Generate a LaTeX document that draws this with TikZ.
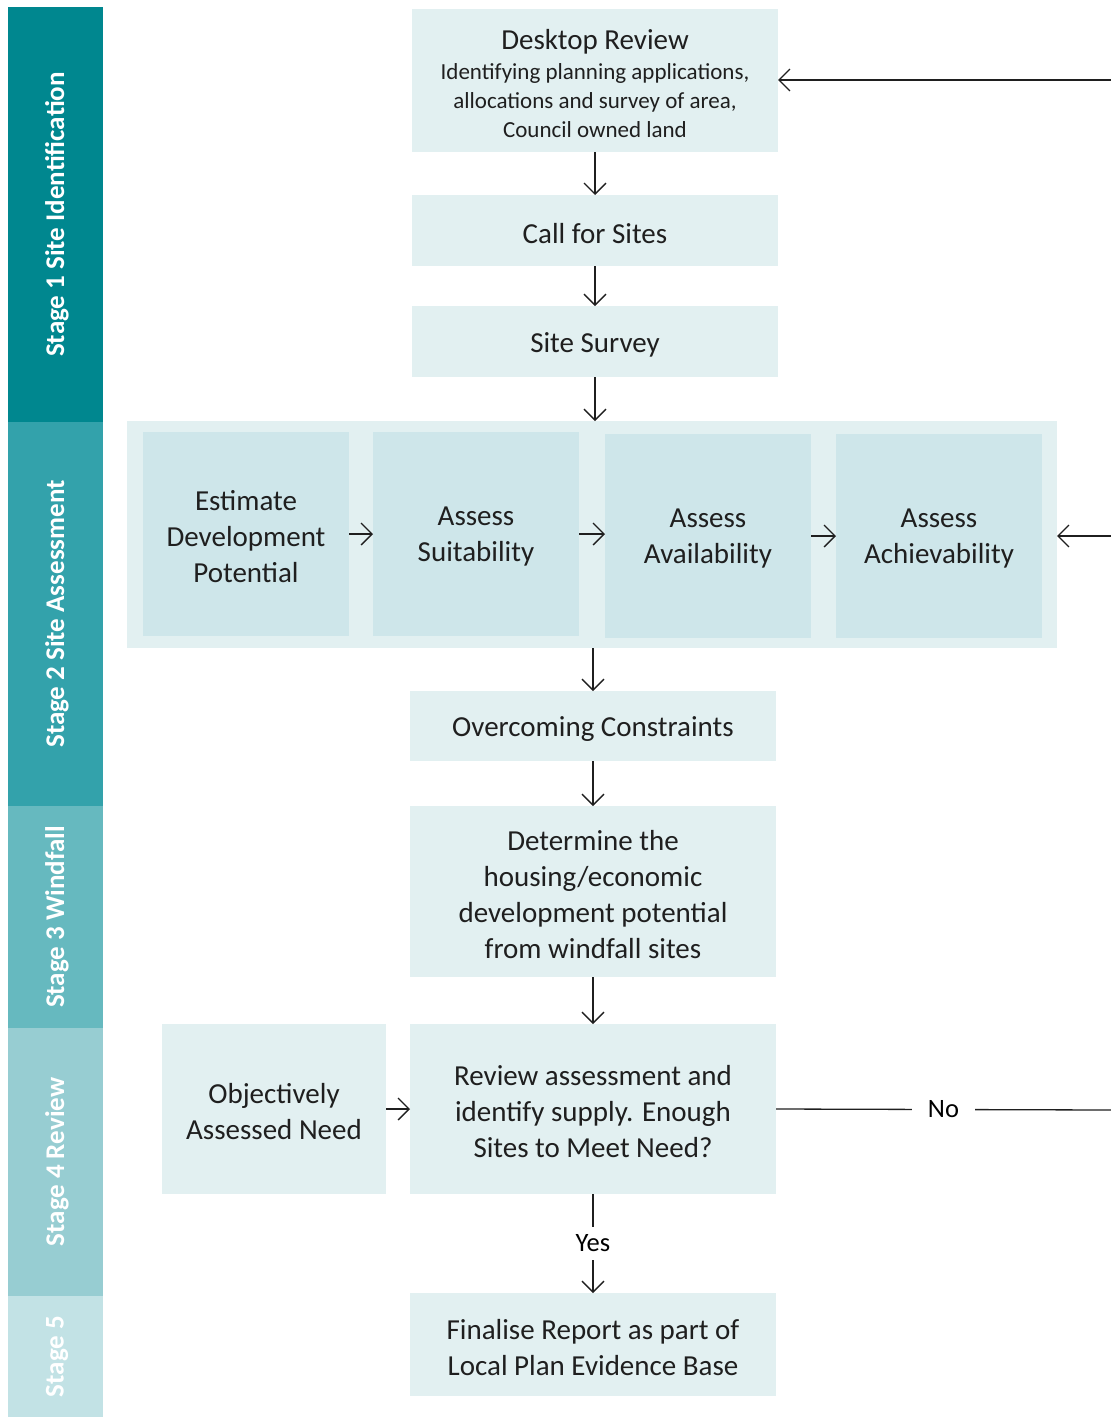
\documentclass[tikz,border=0pt]{standalone}
\usepackage{fontspec}
\setmainfont{Carlito}
\usetikzlibrary{arrows.meta}
\definecolor{bandA}{HTML}{00878F}
\definecolor{bandB}{HTML}{33A2AB}
\definecolor{bandC}{HTML}{66B9BF}
\definecolor{bandD}{HTML}{97CDD2}
\definecolor{bandE}{HTML}{C2E2E5}
\definecolor{boxfill}{HTML}{E2F0F1}
\definecolor{innerfill}{HTML}{CEE6EA}
\definecolor{txt}{HTML}{1F1F1F}
\begin{document}
\begin{tikzpicture}[x=1pt,y=-1pt,
  band/.style={rotate=90, inner sep=0pt, outer sep=0pt, minimum height=95pt},
  bandtx/.style={xshift=1.5pt, rotate=90, inner sep=0pt, text=white, font=\fontsize{27}{30}\selectfont\bfseries},
  box/.style={fill=boxfill, inner sep=0pt, outer sep=0pt, minimum width=366pt},
  inner/.style={fill=innerfill, inner sep=0pt, outer sep=0pt, minimum width=206pt,
    minimum height=204pt},
  tx/.style={yshift=-3pt, inner sep=0pt, align=center, text=txt, font=\fontsize{29}{36}\selectfont},
  arr/.style={line width=1.3pt, draw=txt, -{Straight Barb[length=11pt,width=22pt,line width=1.3pt]}},
  ln/.style={line width=1.3pt, draw=txt},
  lbl/.style={fill=white, text=black, font=\fontsize{26.5}{30}\selectfont}
]
\useasboundingbox (0,0) rectangle (1111,1417);

% stage bands
\node[band, fill=bandA, minimum width=415pt] (s1) at (55.5,214.5) {};
\node[bandtx] (s1T) at (s1.center) {Stage 1 Site Identification};
\node[band, fill=bandB, minimum width=384pt] (s2) at (55.5,614) {};
\node[bandtx] (s2T) at (s2.center) {Stage 2 Site Assessment};
\node[band, fill=bandC, minimum width=222pt] (s3) at (55.5,917) {};
\node[bandtx] (s3T) at (s3.center) {Stage 3 Windfall};
\node[band, fill=bandD, minimum width=268pt] (s4) at (55.5,1162) {};
\node[bandtx] (s4T) at (s4.center) {Stage 4 Review};
\node[band, fill=bandE, minimum width=121pt] (s5) at (55.5,1356.5) {};
\node[bandtx] (s5T) at (s5.center) {Stage 5};

% stage 1 boxes
\node[box, minimum height=143pt] (desk) at (595,80.5) {};
\node[tx] (deskT) at (desk.center)
  {Desktop Review\\[-6pt]{\fontsize{23}{29}\selectfont Identifying planning applications,}\\[-7pt]
   {\fontsize{23}{29}\selectfont allocations and survey of area,}\\[-7pt]
   {\fontsize{23}{29}\selectfont Council owned land}};
\node[box, minimum height=71pt] (call) at (595,230.5) {};
\node[tx] (callT) at (call.center) {Call for Sites};
\node[box, minimum height=71pt] (survey) at (595,341.5) {};
\node[tx] (surveyT) at (survey.center) {Site Survey};

% stage 2 container
\node[fill=boxfill, inner sep=0pt, outer sep=0pt, minimum width=930pt, minimum height=227pt] (cont) at (592,534.5) {};
\node[inner] (est) at (246,534) {};
\node[tx] (estT) at (est.center) {Estimate\\Development\\Potential};
\node[inner] (suit) at (476,534) {};
\node[tx] (suitT) at (suit.center) {Assess\\Suitability};
\node[inner] (avail) at (708,536) {};
\node[tx] (availT) at (avail.center) {Assess\\Availability};
\node[inner] (achv) at (939,536) {};
\node[tx] (achvT) at (achv.center) {Assess\\Achievability};

\node[box, minimum height=70pt] (over) at (593,726) {};
\node[tx] (overT) at (over.center) {Overcoming Constraints};
\node[box, minimum height=171pt] (det) at (593,891.5) {};
\node[tx] (detT) at (det.center)
  {Determine the\\housing/economic\\development potential\\from windfall sites};
\node[box, minimum width=224pt, minimum height=170pt] (obj) at (274,1109) {};
\node[tx] (objT) at (obj.center) {Objectively\\Assessed Need};
\node[box, minimum height=170pt] (rev) at (593,1109) {};
\node[tx] (revT) at (rev.center)
  {Review assessment and\\identify supply. Enough\\Sites to Meet Need?};
\node[box, minimum height=103pt] (fin) at (593,1344.5) {};
\node[tx] (finT) at (fin.center)
  {Finalise Report as part of\\Local Plan Evidence Base};

% free ends on the right edge
\coordinate (r1) at (1111,80);
\coordinate (r2) at (1111,536);
\coordinate (r3) at (1111,1110);

% connectors
\draw[arr] (desk) -- (call);
\draw[arr] (call) -- (survey);
\draw[arr] (survey) -- (survey |- cont.north);
\draw[arr] (est.east) -- (suit.west);
\draw[arr] (suit.east) -- (suit.east -| avail.west);
\draw[arr] (avail.east) -- (achv.west);
\draw[arr] (r1) -- (r1 -| desk.east);
\draw[arr] (r2) -- (r2 -| cont.east);
\draw[arr] (cont.south -| over.north) -- (over.north);
\draw[arr] (over) -- (det);
\draw[arr] (det) -- (rev);
\draw[arr] (obj.east) -- (rev.west);
\draw[ln] (rev.east) -- (r3) node[lbl, midway, inner xsep=16pt] {No};
\draw[arr] (rev.south) -- (fin.north) node[lbl, midway, inner ysep=8pt, inner xsep=4pt] {Yes};
\end{tikzpicture}
\end{document}
